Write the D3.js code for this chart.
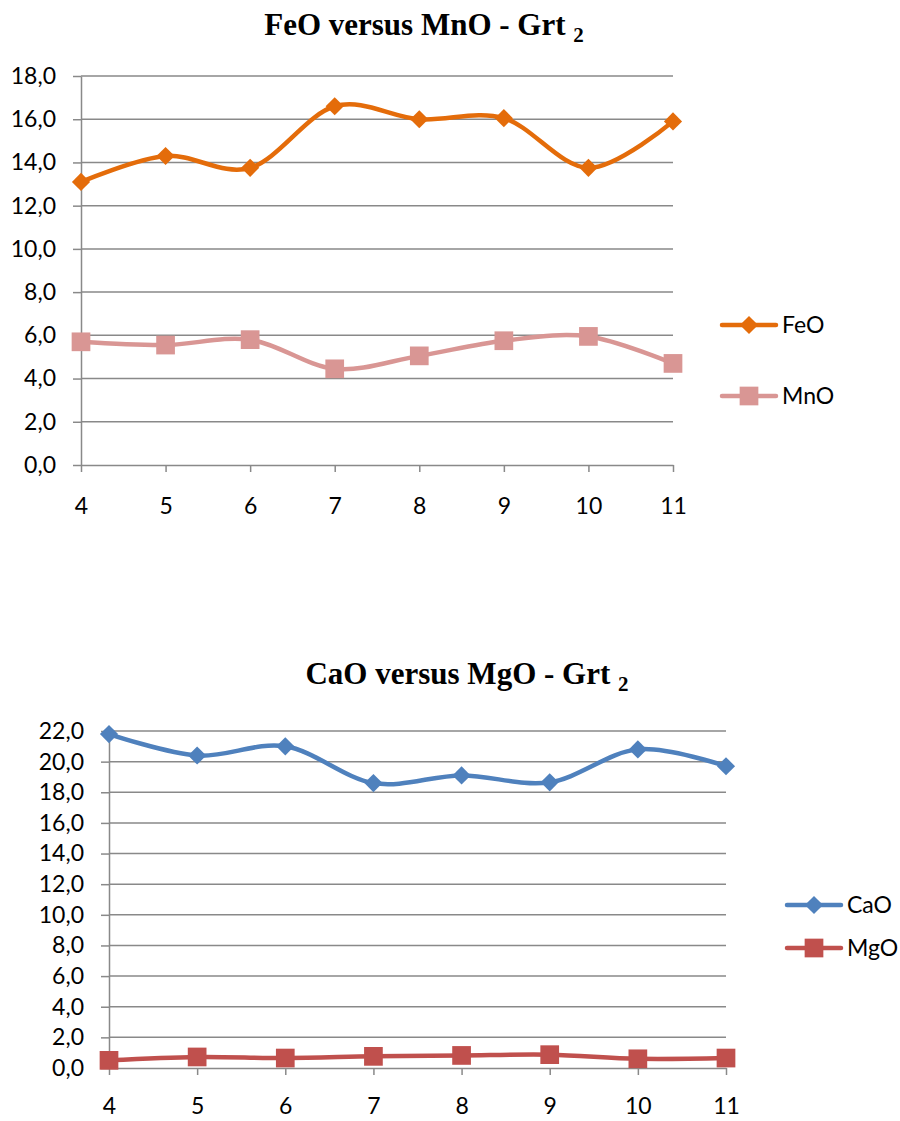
<!DOCTYPE html>
<html>
<head>
<meta charset="utf-8">
<script src="https://cdn.jsdelivr.net/npm/d3@7"></script>
<style>
	body { margin: 0; background: #fff; }
	svg { display: block; }
</style>
</head>
<body>
<script>

// sample numbers along the traverse
const samples = [4, 5, 6, 7, 8, 9, 10, 11]

// oxide contents (wt%)
const feo = [13.1, 14.3, 13.75, 16.6, 16.0, 16.05, 13.75, 15.9]
const mno = [5.7, 5.55, 5.8, 4.45, 5.05, 5.75, 5.95, 4.7]
const cao = [21.8, 20.4, 21.0, 18.6, 19.1, 18.65, 20.8, 19.7]
const mgo = [0.5, 0.72, 0.65, 0.76, 0.82, 0.87, 0.6, 0.65]

// y tick labels
const yTicksTop = [0, 2, 4, 6, 8, 10, 12, 14, 16, 18]
const yTicksBottom = [0, 2, 4, 6, 8, 10, 12, 14, 16, 18, 20, 22]

const svg = d3.select('body')
	.append('svg')
	.attr('width', 900)
	.attr('height', 1121)

const labelFont = 'Lato, "Open Sans", sans-serif'
const gridColor = '#898989'

function drawChart(cfg) {
	let g = svg.append('g')

	let x = d3.scalePoint()
		.domain(samples)
		.range([cfg.left, cfg.right])
		.padding(0)

	let y = d3.scaleLinear()
		.domain([0, d3.max(cfg.ticks)])
		.range([cfg.bottom, cfg.top])

	//title with subscript
	let title = g.append('text')
		.attr('x', cfg.titleX)
		.attr('y', cfg.titleY)
		.attr('text-anchor', 'middle')
		.style('font-family', '"Liberation Serif", "Times New Roman", serif')
		.style('font-weight', 'bold')
		.style('font-size', '31px')
	title.append('tspan').text(cfg.title + ' ')
	title.append('tspan').attr('dy', 7).style('font-size', '21px').text('2')

	//horizontal gridlines
	g.append('g')
		.selectAll('line')
		.data(cfg.ticks.filter(d => d > 0))
		.join('line')
		.attr('x1', cfg.left)
		.attr('x2', cfg.right)
		.attr('y1', d => y(d))
		.attr('y2', d => y(d))
		.style('stroke', gridColor)
		.style('stroke-width', 1.5)

	//y axis
	let yAxis = g.append('g')
		.attr('transform', 'translate(' + cfg.left + ',0)')
		.call(d3.axisLeft(y)
			.tickValues(cfg.ticks)
			.tickSize(8)
			.tickSizeOuter(0)
			.tickPadding(17)
			.tickFormat(d => d.toFixed(1).replace('.', ',')))

	//x axis
	let xAxis = g.append('g')
		.attr('transform', 'translate(0,' + cfg.bottom + ')')
		.call(d3.axisBottom(x)
			.tickSize(7)
			.tickSizeOuter(0)
			.tickPadding(cfg.xPad))

	for (let ax of [xAxis, yAxis]) {
		ax.selectAll('path, line').style('stroke', gridColor).style('stroke-width', 1.5)
		ax.selectAll('text')
			.style('font-family', labelFont)
			.style('font-size', '23px')
			.style('fill', '#000')
	}

	let line = d3.line()
		.x((d, i) => x(samples[i]))
		.y(d => y(d))
		.curve(d3.curveCardinal.tension(0))

	cfg.series.forEach((s, k) => {
		g.append('path')
			.datum(s.values)
			.attr('d', line)
			.style('fill', 'none')
			.style('stroke', s.color)
			.style('stroke-width', 4.5)
			.style('stroke-linejoin', 'round')

		g.append('g')
			.selectAll('path')
			.data(s.values)
			.join('path')
			.attr('d', marker(s.shape))
			.attr('transform', (d, i) => 'translate(' + x(samples[i]) + ',' + y(d) + ')' + (s.shape == 'diamond' ? ' rotate(45)' : ''))
			.style('fill', s.color)

		//legend entry
		let ly = cfg.legendY[k]
		let lg = g.append('g')
		lg.append('line')
			.attr('x1', cfg.legendX)
			.attr('x2', cfg.legendX + 54)
			.attr('y1', ly)
			.attr('y2', ly)
			.style('stroke', s.color)
			.style('stroke-width', 4.5)
			.style('stroke-linecap', 'round')
		lg.append('path')
			.attr('d', marker(s.shape))
			.attr('transform', 'translate(' + (cfg.legendX + 27) + ',' + ly + ')' + (s.shape == 'diamond' ? ' rotate(45)' : ''))
			.style('fill', s.color)
		lg.append('text')
			.attr('x', cfg.legendX + 60)
			.attr('y', ly)
			.attr('dy', '0.36em')
			.style('font-family', labelFont)
			.style('font-size', '23px')
			.text(s.name)
	})
}

function marker(shape) {
	if (shape == 'diamond')
		return d3.symbol(d3.symbolSquare, 165)()
	return d3.symbol(d3.symbolSquare, 350)()
}

drawChart({
	title: 'FeO versus MnO - Grt',
	titleX: 424, titleY: 35,
	left: 81, right: 673, top: 76, bottom: 465,
	ticks: yTicksTop,
	xPad: 26,
	legendX: 722, legendY: [325, 396],
	series: [
		{name: 'FeO', values: feo, color: '#E46C0A', shape: 'diamond'},
		{name: 'MnO', values: mno, color: '#D99694', shape: 'square'}
	]
})

drawChart({
	title: 'CaO versus MgO - Grt',
	titleX: 467, titleY: 684,
	left: 109, right: 726, top: 731, bottom: 1068,
	ticks: yTicksBottom,
	xPad: 23,
	legendX: 787, legendY: [905, 948],
	series: [
		{name: 'CaO', values: cao, color: '#4F81BD', shape: 'diamond'},
		{name: 'MgO', values: mgo, color: '#C0504D', shape: 'square'}
	]
})

</script>
</body>
</html>
